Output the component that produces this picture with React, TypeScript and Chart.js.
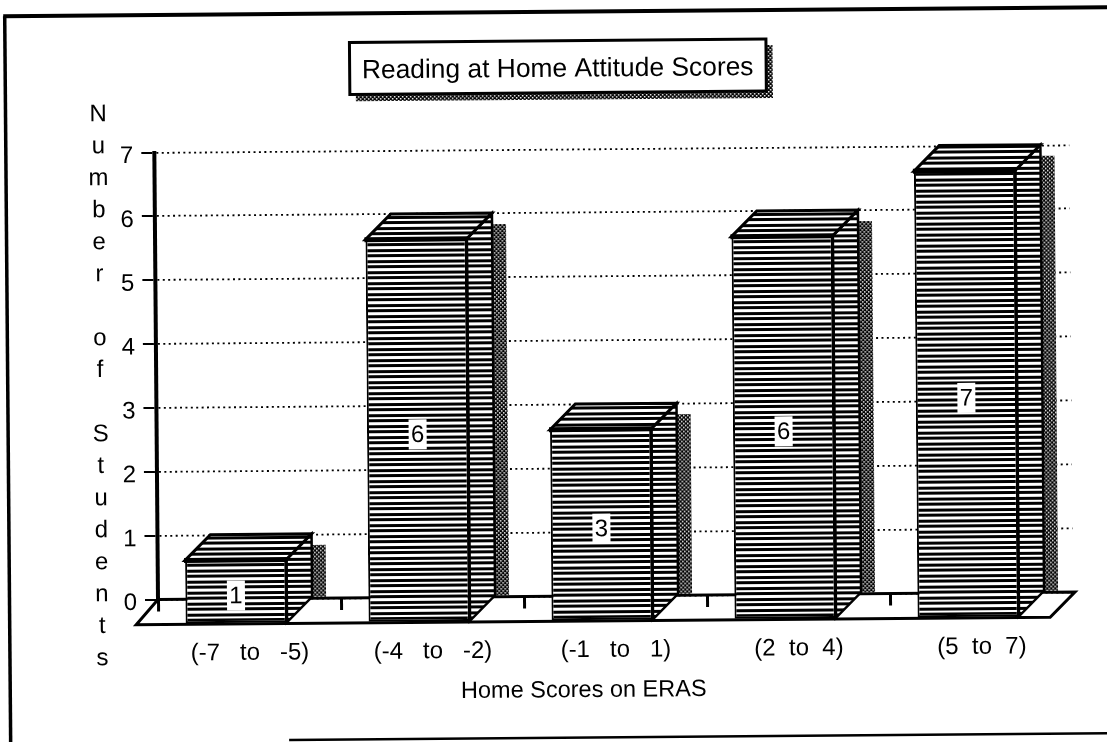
import React, { useEffect, useRef } from "react";
import { Chart, registerables } from "chart.js";

Chart.register(...registerables);

const categories = ["(-7   to   -5)", "(-4   to   -2)", "(-1   to   1)", "(2  to  4)", "(5  to  7)"];
const studentCounts = [1, 6, 3, 6, 7];
const yAxisLetters = ["N", "u", "m", "b", "e", "r", "", "o", "f", "", "S", "t", "u", "d", "e", "n", "t", "s"];
const chartTitle = "Reading at Home Attitude Scores";
const xAxisTitle = "Home Scores on ERAS";

const FONT = '"Liberation Sans", Arial, sans-serif';
const WIDTH = 1107;
const HEIGHT = 742;
const TILT = (-0.47 * Math.PI) / 180;
const PIVOT = { x: 158, y: 600 };
// Offset of the front plane from the back wall, and the depth of each box.
const FRONT = { x: -13.5, y: 25 };
const DEPTH = 25.5;
const SHADOW_WIDTH = 14;

function stripePattern(ctx: CanvasRenderingContext2D) {
  const tile = document.createElement("canvas");
  tile.width = 4;
  tile.height = 11;
  const t = tile.getContext("2d")!;
  t.fillStyle = "#fff";
  t.fillRect(0, 0, 4, 11);
  t.fillStyle = "#000";
  t.fillRect(0, 0, 4, 3);
  t.fillRect(0, 6, 4, 3);
  return ctx.createPattern(tile, "repeat")!;
}

function stipplePattern(ctx: CanvasRenderingContext2D) {
  const tile = document.createElement("canvas");
  tile.width = 4;
  tile.height = 4;
  const t = tile.getContext("2d")!;
  t.fillStyle = "#000";
  t.fillRect(0, 0, 4, 4);
  t.fillStyle = "#fff";
  t.fillRect(0, 0, 1.5, 1.5);
  t.fillRect(2, 2, 1.5, 1.5);
  return ctx.createPattern(tile, "repeat")!;
}

function polygon(ctx: CanvasRenderingContext2D, pts: number[][], fill: string | CanvasPattern, lineWidth: number) {
  ctx.beginPath();
  pts.forEach(([x, y], i) => (i ? ctx.lineTo(x, y) : ctx.moveTo(x, y)));
  ctx.closePath();
  ctx.fillStyle = fill;
  ctx.fill();
  ctx.lineWidth = lineWidth;
  ctx.strokeStyle = "#000";
  ctx.lineJoin = "miter";
  ctx.stroke();
}

function segment(ctx: CanvasRenderingContext2D, x1: number, y1: number, x2: number, y2: number, w: number) {
  ctx.beginPath();
  ctx.moveTo(x1, y1);
  ctx.lineTo(x2, y2);
  ctx.lineWidth = w;
  ctx.strokeStyle = "#000";
  ctx.stroke();
}

export default function App() {
  const ref = useRef<HTMLCanvasElement>(null);

  useEffect(() => {
    const canvas = ref.current!;
    const base = canvas.getContext("2d")!;
    const stripes = stripePattern(base);
    const stipple = stipplePattern(base);

    const boxes3d = {
      id: "boxes3d",
      beforeDraw(chart: any) {
        const { ctx, chartArea: a } = chart;
        ctx.save();
        ctx.translate(PIVOT.x, PIVOT.y);
        ctx.rotate(TILT);
        ctx.translate(-PIVOT.x, -PIVOT.y);

        // Page frame
        segment(ctx, 9.5, 15, 9.5, 760, 3.5);
        segment(ctx, 8, 15, 1130, 15, 4);
        segment(ctx, 288, 741, 1130, 741, 2.5);

        // Chart heading box with its stippled drop shadow
        ctx.fillStyle = stipple;
        ctx.fillRect(360, 96, 417, 7);
        ctx.fillRect(770, 50, 7, 53);
        ctx.fillStyle = "#fff";
        ctx.fillRect(354, 44, 416.5, 52);
        ctx.strokeStyle = "#000";
        ctx.lineWidth = 3;
        ctx.strokeRect(354, 44, 416.5, 52);
        ctx.fillStyle = "#000";
        ctx.font = `26.4px ${FONT}`;
        ctx.textAlign = "center";
        ctx.textBaseline = "alphabetic";
        ctx.fillText(chartTitle, 562, 80);

        // Vertical axis caption, one letter per line
        ctx.font = `24px ${FONT}`;
        ctx.textBaseline = "middle";
        yAxisLetters.forEach((ch, i) => {
          ctx.fillText(ch, 102, 114 + i * 32);
        });

        // Horizontal axis caption
        ctx.font = `23.5px ${FONT}`;
        ctx.fillText(xAxisTitle, 583, 694);

        // Floor
        polygon(
          ctx,
          [
            [a.left, a.bottom],
            [a.right + 2, a.bottom],
            [a.right + 2 - 25, a.bottom + 25],
            [a.left - 22, a.bottom + 25],
          ],
          "#fff",
          3
        );
      },
      beforeDatasetsDraw(chart: any) {
        const { ctx } = chart;
        ctx.save();
        ctx.translate(FRONT.x, FRONT.y);
        chart.getDatasetMeta(0).data.forEach((bar: any) => {
          const left = bar.x - bar.width / 2;
          const right = bar.x + bar.width / 2;
          const top = bar.y;
          const bottom = bar.base;
          // Shadow on the wall behind the box
          ctx.fillStyle = stipple;
          ctx.fillRect(right + DEPTH, top - DEPTH + 11, SHADOW_WIDTH, bottom - top - 11);
          // Side and top faces
          polygon(
            ctx,
            [
              [right, top],
              [right + DEPTH, top - DEPTH],
              [right + DEPTH, bottom - DEPTH],
              [right, bottom],
            ],
            stripes,
            2.5
          );
          polygon(
            ctx,
            [
              [left, top],
              [left + DEPTH, top - DEPTH],
              [right + DEPTH, top - DEPTH],
              [right, top],
            ],
            stripes,
            3
          );
        });
      },
      afterDatasetsDraw(chart: any) {
        const { ctx } = chart;
        const values = chart.data.datasets[0].data as number[];
        chart.getDatasetMeta(0).data.forEach((bar: any, i: number) => {
          const left = bar.x - bar.width / 2;
          const right = bar.x + bar.width / 2;
          segment(ctx, left - 1, bar.y, right + 1, bar.y, 5);
          segment(ctx, right, bar.y, right, bar.base, 3);
          // Value tag in the middle of the front face
          const cy = (bar.y + bar.base) / 2 + 4;
          ctx.fillStyle = "#fff";
          ctx.fillRect(bar.x - 9, cy - 15, 18, 30);
          ctx.fillStyle = "#000";
          ctx.font = `24px ${FONT}`;
          ctx.textAlign = "center";
          ctx.textBaseline = "middle";
          ctx.fillText(String(values[i]), bar.x, cy + 1);
        });
        ctx.restore();
      },
      afterDraw(chart: any) {
        chart.ctx.restore();
      },
    };

    const chart = new Chart(canvas, {
      type: "bar",
      data: {
        labels: categories,
        datasets: [
          {
            data: studentCounts,
            backgroundColor: stripes as any,
            borderColor: "#000",
            borderWidth: 2,
            borderSkipped: false,
            barPercentage: 0.553,
            categoryPercentage: 1,
            clip: false as any,
          },
        ],
      },
      plugins: [boxes3d],
      options: {
        animation: false,
        responsive: false,
        layout: { padding: { top: 152.5, right: 34, left: 0, bottom: 0 } },
        plugins: { legend: { display: false }, title: { display: false }, tooltip: { enabled: false } },
        scales: {
          x: {
            offset: true,
            afterFit: (s: any) => {
              s.height = HEIGHT - 599.5;
            },
            grid: {
              offset: true,
              drawOnChartArea: false,
              drawTicks: true,
              tickLength: 12,
              tickWidth: 3,
              tickColor: (c: any) => (c.tick ? "#000" : "rgba(0,0,0,0)"),
            },
            border: { display: false },
            ticks: {
              autoSkip: false,
              maxRotation: 0,
              padding: 28,
              color: "#000",
              font: { family: FONT, size: 24 },
            },
          },
          y: {
            min: 0,
            max: 7,
            afterFit: (s: any) => {
              s.width = PIVOT.x;
            },
            grid: {
              color: "#000",
              lineWidth: 1.8,
              tickLength: 13,
              tickColor: "#000",
              tickWidth: 2,
            },
            border: { display: true, color: "#000", width: 4, dash: [2, 3.4] },
            ticks: {
              stepSize: 1,
              padding: 8,
              color: "#000",
              // A leading empty line sets the numerals just below their tick marks.
              callback: (v: any) => ["", String(v)],
              font: { family: FONT, size: 24, lineHeight: 0.3 },
            },
          },
        },
      },
    });
    return () => chart.destroy();
  }, []);

  return (
    <div style={{ position: "absolute", left: 0, top: 0, width: WIDTH, height: HEIGHT, overflow: "hidden", background: "#fff" }}>
      <canvas ref={ref} width={WIDTH} height={HEIGHT} style={{ display: "block" }} />
    </div>
  );
}
